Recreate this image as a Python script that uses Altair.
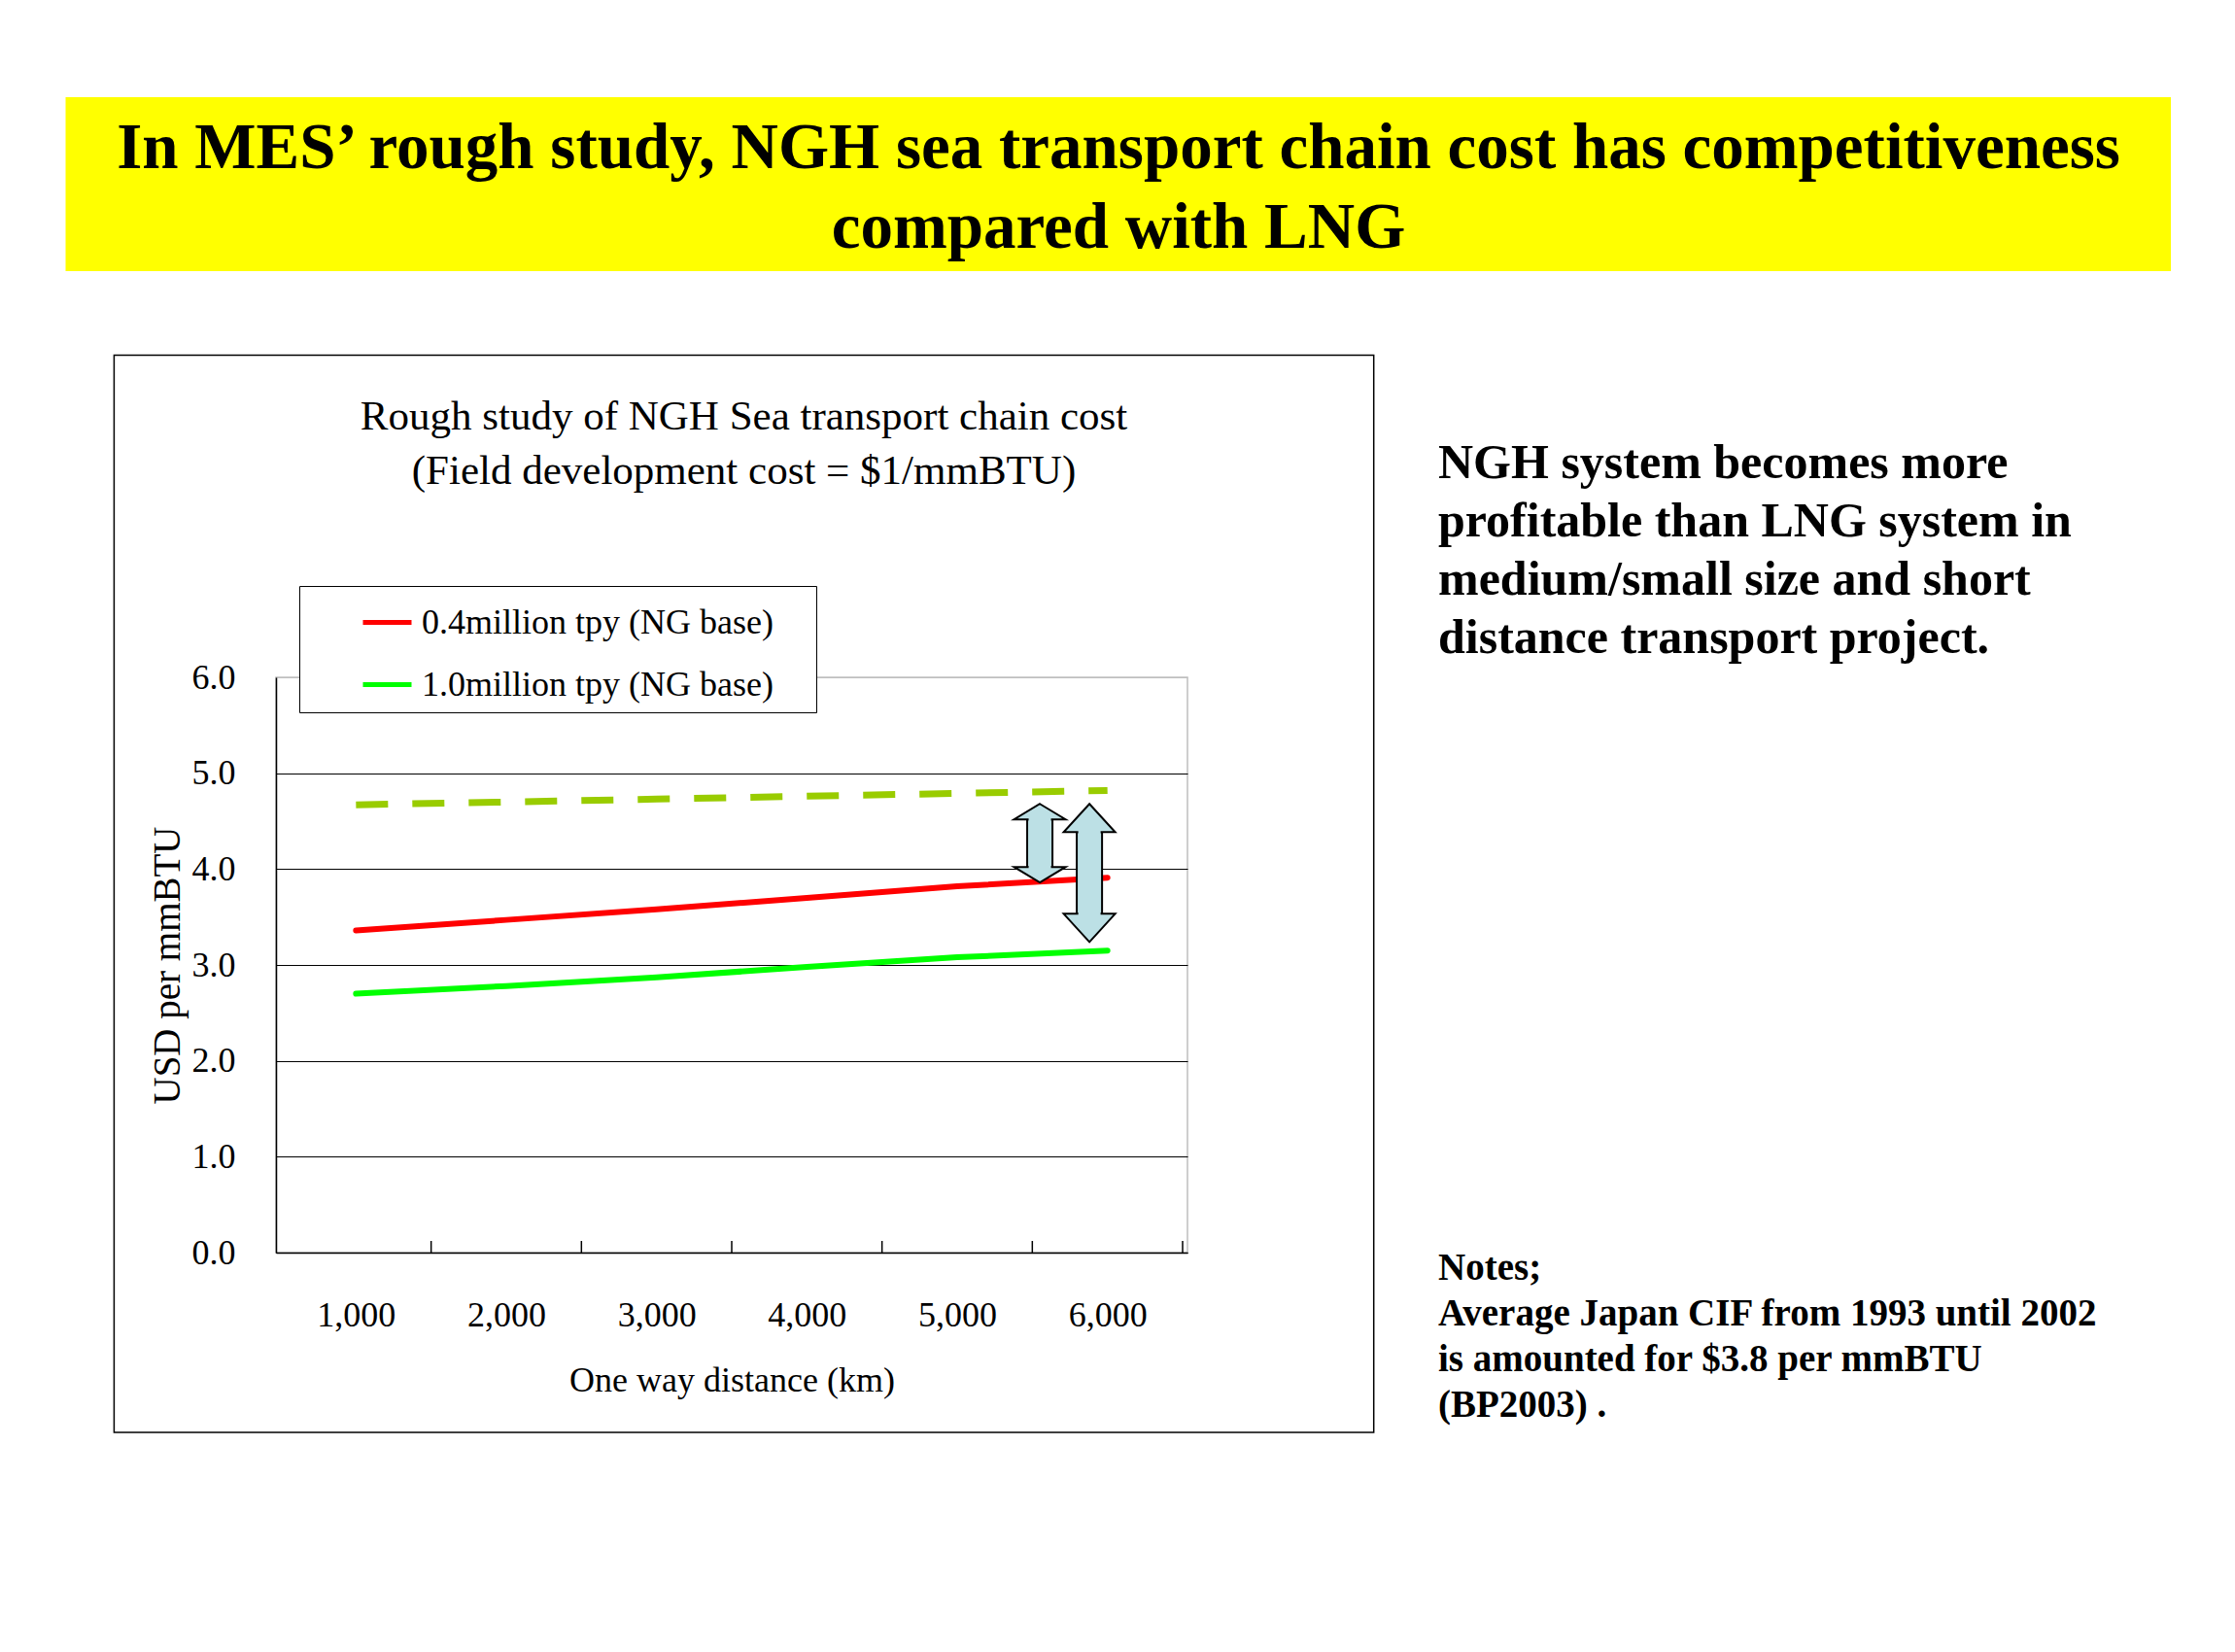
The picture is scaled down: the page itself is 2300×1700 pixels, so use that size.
import altair as alt
import pandas as pd

# ---------------- data ----------------
distances = [1000, 2000, 3000, 4000, 5000, 6000]
series_names = ["0.4million tpy (NG base)", "1.0million tpy (NG base)"]
ngh_04 = [3.36, 3.47, 3.58, 3.70, 3.82, 3.91]
ngh_10 = [2.70, 2.78, 2.87, 2.98, 3.08, 3.15]
lng = [4.67, 4.70, 4.73, 4.76, 4.79, 4.82]
tick_bounds = [1500, 2500, 3500, 4500, 5500, 6500]
y_ticks = [0, 1, 2, 3, 4, 5, 6]
arrow_x = [5550, 5880]
arrow_top = [4.68, 4.68]
arrow_bottom = [3.86, 3.24]

banner_lines = ["In MES\u2019 rough study, NGH sea transport chain cost has competitiveness",
                "compared with LNG"]
chart_title_lines = ["Rough study of NGH Sea transport chain cost",
                     "(Field development cost = $1/mmBTU)"]
side_lines = ["NGH system becomes more",
              "profitable than LNG system in",
              "medium/small size and short",
              "distance transport project."]
notes_lines = ["Notes;",
               "Average Japan CIF from 1993 until 2002",
               "is amounted for $3.8 per mmBTU",
               "(BP2003) ."]
x_title = "One way distance (km)"
y_title = "USD per mmBTU"

# ---------------- layout ----------------
SERIF = "Liberation Serif"
W, H = 938, 592
OX, OY = 284, 697          # page position of plot origin
PAD_L, PAD_T = OX - 8, OY - 8
PAD_R = 2284 - PAD_L - W
PAD_B = 1684 - PAD_T - H


def rx(px):
    return px - OX


def ry(py):
    return py - OY


ARROW = "#BCE0E5"
one = pd.DataFrame({"k": [0]})

x_scale = alt.Scale(domain=[500, 6500], nice=False, zero=False)
y_scale = alt.Scale(domain=[0, 6], nice=False, zero=True)

frame = alt.Chart(one).mark_rect(fillOpacity=0, stroke="black", strokeWidth=1.5).encode(
    x=alt.value(rx(117.4)), x2=alt.value(rx(1413.7)),
    y=alt.value(ry(365.5)), y2=alt.value(ry(1474)))

banner = alt.Chart(one).mark_rect(fill="#FFFF00").encode(
    x=alt.value(rx(67.5)), x2=alt.value(rx(2234)),
    y=alt.value(ry(100)), y2=alt.value(ry(279)))

# multi-line texts: y is the centre of the first line
banner_text = alt.Chart(one).mark_text(
    text=banner_lines, font=SERIF, fontSize=67, fontWeight="bold", color="black",
    align="center", baseline="middle", lineHeight=82).encode(
    x=alt.value(rx(1151)), y=alt.value(ry(153)))

chart_title = alt.Chart(one).mark_text(
    text=chart_title_lines, font=SERIF, fontSize=43, color="black",
    align="center", baseline="middle", lineHeight=56).encode(
    x=alt.value(rx(765.5)), y=alt.value(ry(429)))

side_text = alt.Chart(one).mark_text(
    text=side_lines, font=SERIF, fontSize=50, fontWeight="bold", color="black",
    align="left", baseline="middle", lineHeight=60).encode(
    x=alt.value(rx(1480)), y=alt.value(ry(477)))

notes_text = alt.Chart(one).mark_text(
    text=notes_lines, font=SERIF, fontSize=39, fontWeight="bold", color="black",
    align="left", baseline="middle", lineHeight=47).encode(
    x=alt.value(rx(1480)), y=alt.value(ry(1305)))

# ---------------- chart data ----------------
df_lines = pd.DataFrame({
    "distance": distances + distances,
    "cost": ngh_04 + ngh_10,
    "series": [series_names[0]] * len(distances) + [series_names[1]] * len(distances),
})
df_lng = pd.DataFrame({"distance": distances, "cost": lng})
df_ticks = pd.DataFrame({"distance": tick_bounds})
df_arrows = pd.DataFrame({"distance": arrow_x, "cost": arrow_top, "cost2": arrow_bottom})

grid_color = {"condition": {"test": "datum.value >= 6", "value": "#BFBFBF"}, "value": "#000000"}

lines = alt.Chart(df_lines).mark_line(strokeWidth=6, strokeCap="round").encode(
    x=alt.X("distance:Q", scale=x_scale, title=x_title,
            axis=alt.Axis(values=distances, format=",d", grid=False, ticks=False, tickSize=0,
                          labelFont=SERIF, labelFontSize=36, labelColor="black", labelPadding=47,
                          domainColor="black", domainWidth=1.5,
                          titleFont=SERIF, titleFontSize=36, titleFontWeight="normal",
                          titleColor="black", titleY=131, titleBaseline="middle")),
    y=alt.Y("cost:Q", scale=y_scale, title=y_title,
            axis=alt.Axis(values=y_ticks, format=".1f", grid=True, gridColor=grid_color,
                          gridWidth=1.2, ticks=False, tickSize=0,
                          labelFont=SERIF, labelFontSize=36, labelColor="black", labelPadding=42,
                          domainColor="black", domainWidth=1.5,
                          titleFont=SERIF, titleFontSize=39, titleFontWeight="normal",
                          titleColor="black", titleX=-112, titleY=296, titleBaseline="middle")),
    color=alt.Color("series:N",
                    scale=alt.Scale(domain=series_names, range=["#FF0000", "#00FF00"]),
                    legend=alt.Legend(orient="none", legendX=24, legendY=-94,
                                      title=" ", titleOrient="right", titlePadding=34,
                                      titleFontSize=4,
                                      symbolType="stroke", symbolStrokeWidth=5, symbolSize=2500,
                                      labelFont=SERIF, labelFontSize=36, labelColor="black",
                                      labelLimit=0, labelOffset=8, padding=10, rowPadding=18,
                                      symbolOffset=53,
                                      fillColor="white", strokeColor="black")),
)

lng_line = alt.Chart(df_lng).mark_line(color="#99CC00", strokeWidth=7, strokeDash=[33, 25]).encode(
    x=alt.X("distance:Q", scale=x_scale), y=alt.Y("cost:Q", scale=y_scale))

ticks = alt.Chart(df_ticks).mark_rule(color="black", strokeWidth=1.5).encode(
    x=alt.X("distance:Q", scale=x_scale), y=alt.value(H), y2=alt.value(H - 12))

layers = [frame, banner, banner_text, chart_title, side_text, notes_text,
          lines, lng_line, ticks]

head_h = [16, 29]
HEAD_W = 53
for i in range(len(arrow_x)):
    d = df_arrows.iloc[[i]]
    h = head_h[i]
    u = 2 * h / HEAD_W
    up = f"M0,0L1,{u:.3f}L-1,{u:.3f}Z"
    down = f"M0,0L1,{-u:.3f}L-1,{-u:.3f}Z"
    shaft = alt.Chart(d).mark_bar(size=26, fill=ARROW, stroke="black", strokeWidth=2,
                                  yOffset=h, y2Offset=-h).encode(
        x=alt.X("distance:Q", scale=x_scale), y=alt.Y("cost:Q", scale=y_scale), y2="cost2:Q")
    head_top = alt.Chart(d).mark_point(shape=up, size=HEAD_W ** 2, fill=ARROW, stroke="black",
                                       strokeWidth=2, opacity=1, fillOpacity=1).encode(
        x=alt.X("distance:Q", scale=x_scale), y=alt.Y("cost:Q", scale=y_scale))
    head_bot = alt.Chart(d).mark_point(shape=down, size=HEAD_W ** 2, fill=ARROW, stroke="black",
                                       strokeWidth=2, opacity=1, fillOpacity=1).encode(
        x=alt.X("distance:Q", scale=x_scale), y=alt.Y("cost2:Q", scale=y_scale))
    cover = alt.Chart(d).mark_bar(size=23, fill=ARROW, strokeWidth=0,
                                  yOffset=h - 3, y2Offset=-(h - 3)).encode(
        x=alt.X("distance:Q", scale=x_scale), y=alt.Y("cost:Q", scale=y_scale), y2="cost2:Q")
    layers += [shaft, head_top, head_bot, cover]

chart = alt.layer(*layers).properties(
    width=W, height=H,
    autosize=alt.AutoSizeParams(type="none"),
    padding={"left": PAD_L, "top": PAD_T, "right": PAD_R, "bottom": PAD_B},
    background="white",
).configure_view(stroke="#BFBFBF", strokeWidth=1.5)

chart.save("out.html", embed_options={"renderer": "svg", "actions": False})
